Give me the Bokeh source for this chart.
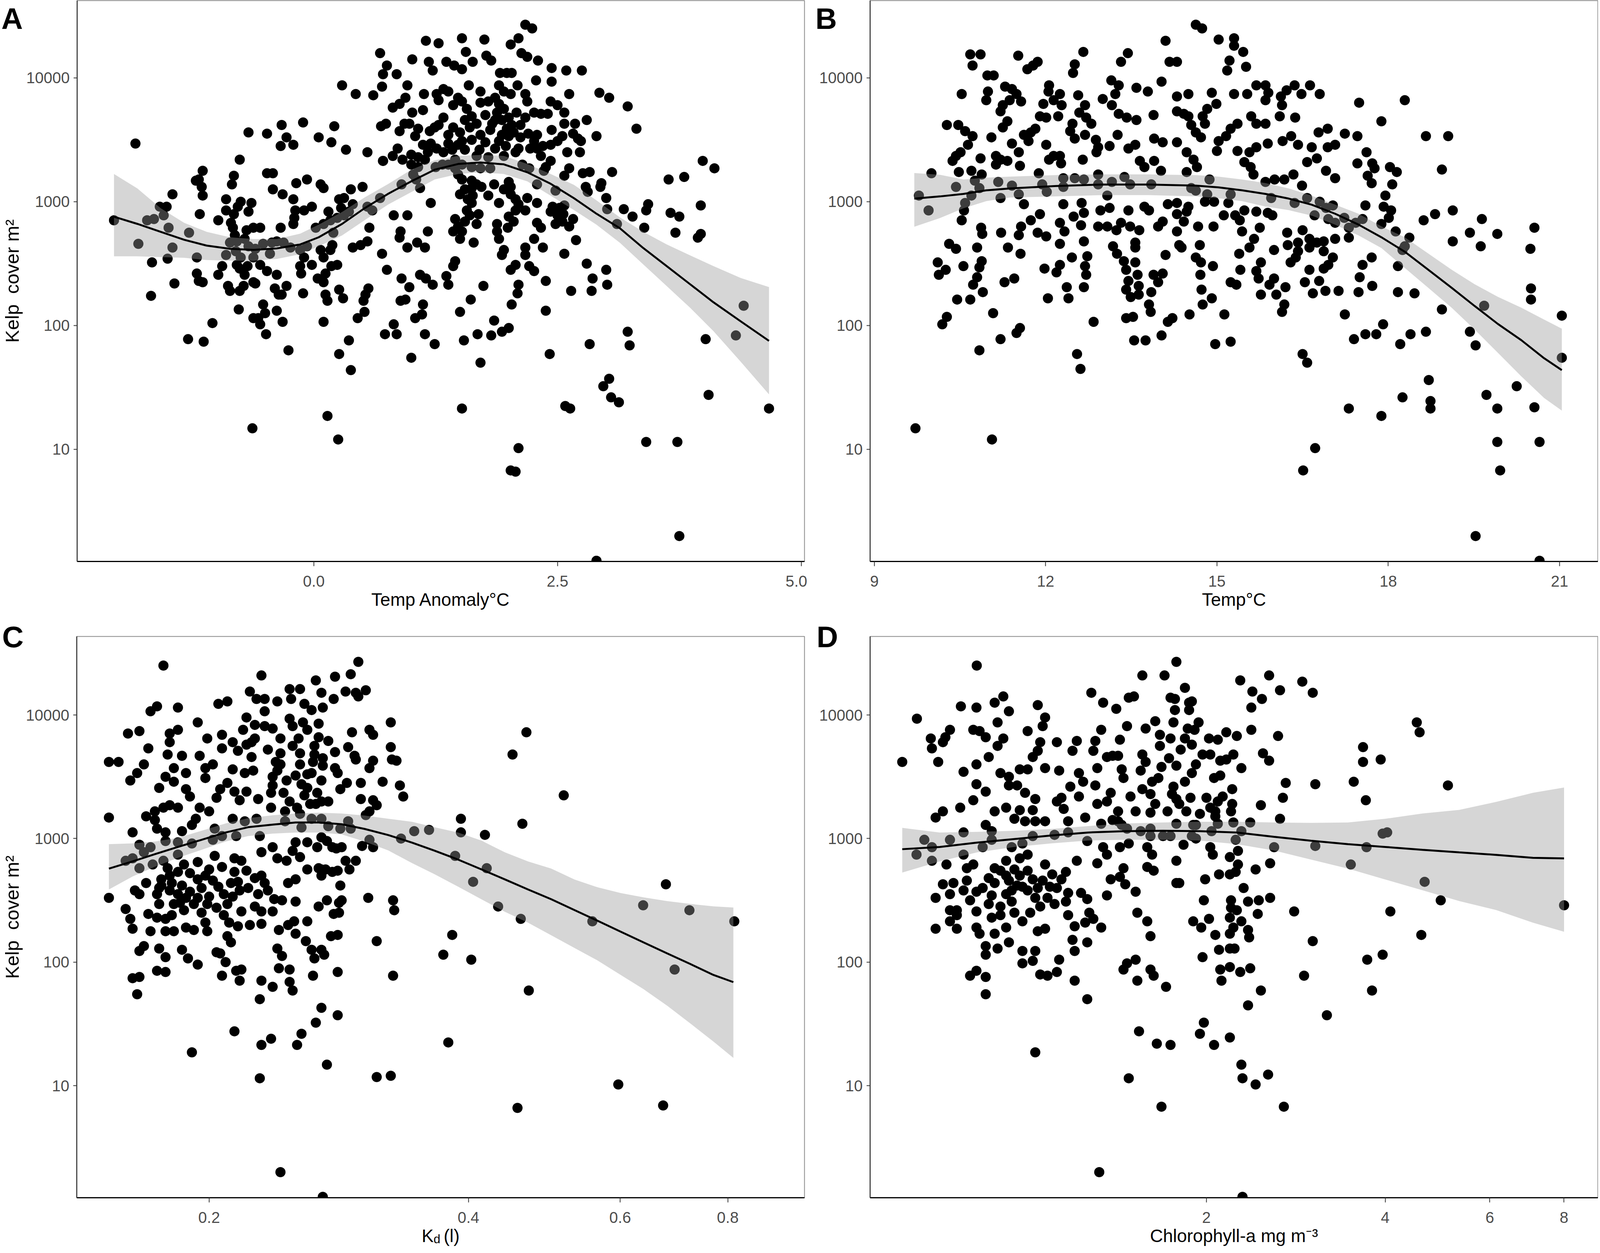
from bokeh.plotting import figure
from bokeh.layouts import column, row
from bokeh.models import Range1d, FixedTicker, LinearAxis, LinearScale
from bokeh.embed import file_html
from bokeh.resources import INLINE

# Each pair: (x value, log10 of kelp cover per m2)
anomaly_points = [(-1.83,3.47),(-2.05,2.85),(-1.8,2.66),(-1.66,2.51),(-1.67,2.24),(-1.43,2.34),(-1.71,2.85),(-1.64,2.86),(-1.58,2.96),(-1.51,2.96),(-1.54,2.89),(-1.49,2.79),(-1.45,3.06),(-1.45,2.63),(-1.5,2.54),(-1.28,2.75),(-1.2,2.55),(-1.2,2.42),(-1.18,2.36),(-1.14,2.35),(-1.17,2.9),(-1.29,1.89),(-1.13,1.87),(-1.04,2.02),(-1.14,3.25),(-1.18,3.18),(-1.15,3.12),(-1.14,3.05),(-1.21,3.17),
(-.98,2.85),(-.9,3.02),(-.9,2.93),(-.85,2.83),(-.83,2.79),(-.81,2.73),(-.86,2.67),(-.9,2.57),(-.94,2.48),(-.98,2.41),(-.88,2.32),(-.86,2.28),(-.76,2.28),(-.72,2.32),(-.79,2.49),(-.76,2.46),(-.71,2.41),(-.62,2.35),(-.6,2.34),(-.77,2.13),(-.82,3.21),(-.84,3.14),(-.76,3.34),(-.75,3.0),(-.64,2.99),(-.67,2.92),(-.67,3.56),(-.48,3.55),(-.33,3.62),(-.34,3.45),(-.28,3.52),(-.21,3.46),(-.11,3.64),(.05,3.52),(.18,3.48),(.21,3.61),(.33,3.42),(.55,3.4),(.71,3.33),
(-.48,3.23),(-.42,3.23),(-.42,3.1),(-.32,3.06),(-.21,3.02),(-.19,2.93),(-.2,2.87),(-.21,2.82),(-.18,3.15),(-.07,3.18),(-.1,2.93),(-.02,2.96),(.07,3.14),(.1,3.11),(.29,3.94),(.43,3.87),(.61,3.86),(.70,3.93),(.71,4.03),(.75,4.1),(.68,4.2),(.85,4.03),(.96,3.94),
(-.69,2.77),(-.62,2.79),(-.55,2.79),(-.79,2.68),(-.71,2.7),(-.67,2.64),(-.62,2.55),(-.55,2.49),(-.48,2.44),(-.38,2.41),(-.4,2.3),(-.36,2.25),(-.28,2.32),(-.33,2.25),(-.52,2.17),(-.5,2.1),(-.57,2.06),(-.55,2.01),(-.62,2.06),(-.38,2.12),(-.32,2.03),(-.49,1.93),(-.26,1.8),(-.34,2.79),(-.38,2.68),(-.43,2.67),(-.31,2.67),(-.24,2.63),(-.14,2.61),(-.07,2.64),(-.1,2.55),(-.14,2.48),(-.13,2.42),(-.02,2.49),(-.11,2.26),(.04,2.38),(.1,2.35),(.12,2.42),(.18,2.48),(.24,2.49),(.17,2.61),(.19,2.65),(.07,2.61),(.1,2.55),(.12,2.25),(.14,2.2),(.26,2.29),(.3,2.22),(.56,2.3),(.53,2.25),(.51,2.2),(.52,2.11),(.45,2.06),(.1,2.03),(.36,1.88),(.26,1.77),(.38,1.64),(.14,1.27),(.25,1.08),(-.63,1.17),
(.02,2.79),(.1,2.82),(.17,2.85),(.24,2.87),(.31,2.89),(.36,2.92),(.26,3.02),(.31,3.03),(.38,3.1),(.5,3.12),(.4,2.63),(.48,2.65),(.55,2.68),(.57,2.79),(.55,2.96),(.6,2.93),(.68,3.03),(.70,2.58),(.75,2.45),(.82,2.89),(.96,2.89),(.89,2.76),(.88,2.71),(.96,2.63),(1.06,2.67),(1.14,2.63),(1.17,2.76),(1.09,2.41),(1.15,2.38),(.9,2.38),(.98,2.31),(.89,2.2),(.94,2.21),(1.22,2.33),(1.36,2.4),(1.38,2.33),(1.43,2.48),(1.45,2.52),(.73,1.93),(.82,2.01),(.85,1.93),(1.04,2.06),(1.11,2.09),(1.12,2.17),(1.14,1.93),(1.24,1.85),(1.0,1.74),(1.5,2.11),(1.61,2.21),(1.74,2.32),(1.54,1.88),(1.68,1.93),(1.71,1.7),(1.82,1.92),(1.85,2.04),(1.93,1.95),(2.0,1.98),(2.03,2.17),(2.09,2.26),(2.1,2.33),(2.38,2.12),(2.42,1.77),(2.83,1.85),(3.22,1.95),(3.24,1.84),(4.02,1.89),(4.33,1.92),(4.41,2.16),(4.05,1.44),(4.67,1.33),(3.41,1.06),(3.73,1.06),(3.75,.3),(2.9,.1),(2.1,1.01),(2.02,.83),(2.07,.82),(1.52,1.33),(2.58,1.35),(2.63,1.33),(2.97,1.51),(3.03,1.57),(3.05,1.42),(3.13,1.38),
(1.15,4.3),(1.28,4.28),(1.52,4.32),(1.75,4.31),(2.02,4.27),(2.1,4.32),(2.17,4.43),(2.24,4.4),(1.56,4.21),(1.01,4.15),(1.18,4.13),(1.22,4.06),(1.36,4.13),(1.44,4.1),(1.52,4.07),(1.63,4.13),(1.77,4.18),(1.82,4.14),(2.13,4.2),(2.19,4.17),(2.3,4.14),(2.44,4.08),(2.59,4.06),(2.75,4.06),(1.91,4.04),(1.98,4.04),(2.03,4.04),(2.28,3.98),(2.44,3.97),(2.62,3.87),(2.09,3.94),(1.9,3.94),(1.95,3.89),(2.02,3.87),(2.17,3.87),(2.19,3.81),(1.59,3.94),(1.71,3.89),(1.33,3.91),(1.38,3.89),(1.26,3.87),(1.28,3.82),(1.13,3.87),(.94,3.84),(.88,3.79),(.81,3.76),(1.01,3.72),(1.12,3.74),(.93,3.63),(.98,3.63),(1.07,3.59),(.88,3.57),(.74,3.63),(.69,3.61),(1.24,3.6),(1.19,3.57),(1.04,3.53),(1.12,3.46),(.86,3.43),(.81,3.37),(.91,3.34),(.71,3.33),(1.0,3.38),(1.07,3.36),(1.17,3.4),(1.26,3.43),(1.38,3.54),(1.38,3.47),(1.43,3.78),(1.48,3.84),(1.52,3.81),(1.57,3.75),(1.62,3.69),(1.67,3.63),(1.5,3.56),(1.52,3.49),(1.62,3.5),(1.71,3.54),(1.79,3.81),(1.86,3.84),(1.9,3.79),(1.88,3.72),(1.93,3.66),(1.98,3.59),(1.83,3.63),(1.9,3.49),(1.86,3.43),(2.0,3.53),(2.05,3.56),(2.17,3.68),(2.26,3.72),(2.33,3.71),(2.4,3.71),(2.43,3.81),(2.5,3.78),(2.57,3.72),(2.57,3.63),(2.44,3.58),(2.55,3.53),(2.29,3.54),(2.26,3.49),(2.29,3.43),(2.5,3.49),(2.43,3.46),(2.1,3.43),(2.71,3.51),(2.74,3.49),(2.73,3.4),(2.8,3.66),(2.9,3.53),(2.93,3.88),(3.03,3.84),(3.22,3.77),(3.31,3.59),(1.33,3.4),(1.45,3.34),(1.67,3.37),(1.79,3.36),(1.95,3.37),(2.33,3.37),(2.43,3.33),(2.38,3.28),(2.62,3.27),(2.57,3.21),(2.76,3.23),(2.83,3.24),(3.06,3.24),(2.95,3.15),(2.94,3.12),(2.79,3.12),(2.81,3.08),(3.0,3.03),(2.48,3.09),(2.29,3.14),(2.14,3.3),(2.21,3.27),(2.36,3.25),
(3.99,3.33),(4.11,3.27),(3.64,3.18),(3.8,3.2),(3.97,2.97),(3.66,2.91),(3.75,2.88),(3.71,2.75),(3.97,2.74),(3.94,2.71),(3.43,2.98),(3.41,2.93),(3.18,2.94),(3.27,2.88),(3.39,2.79),(3.11,2.82),(3.01,2.94),
(1.02,3.22),(1.05,3.18),(.9,3.14),(1.09,3.11),(1.38,3.3),(1.45,3.27),(1.52,3.3),(1.62,3.28),(1.71,3.27),(1.81,3.27),(1.52,3.18),(1.62,3.17),(1.67,3.14),(1.48,3.22),(1.62,3.11),(1.5,3.06),(1.79,3.05),(2.0,3.16),(2.02,3.12),(2.02,3.06),(2.07,3.02),(2.19,3.03),(2.29,2.99),(1.9,2.99),(2.07,2.93),(2.17,2.93),(1.2,2.99),(1.62,2.99),(1.57,2.93),(1.6,2.89),(1.45,2.86),(1.48,2.8),(1.43,2.76),(1.52,2.76),(1.69,2.9),(1.67,2.82),(1.88,2.82),(1.88,2.76),(1.9,2.7),(1.99,2.79),(1.64,2.67),(1.95,2.61),(1.93,2.57),(2.17,2.63),(2.17,2.57),(2.07,2.49),(2.02,2.45),(2.21,2.48),(2.26,2.44),(2.35,2.63),(2.33,2.79),(2.29,2.83),(2.26,2.7),(2.45,2.96),(2.52,2.95),(2.57,2.97),(2.43,2.92),(2.5,2.89),(2.55,2.84),(2.48,2.82),(2.69,2.69),(2.57,2.58),(2.38,2.36),(2.64,2.28),(2.8,2.5),(2.86,2.38),(2.85,2.28),(3.0,2.45),(3.01,2.33),
(1.71,3.8),(1.76,3.7),(1.81,3.58),(1.86,3.66),(1.95,3.75),(2.0,3.68),(2.03,3.62),(2.08,3.72),(2.12,3.62),(2.12,3.52),(2.07,3.4),(1.97,3.45),(1.93,3.54),(1.76,3.48),(1.7,3.42),(1.6,3.6),(1.55,3.66),(1.43,3.6),(1.33,3.68),(1.28,3.62),(1.2,3.47),(1.14,3.34),(1.07,3.28),(1.0,3.3),(1.32,3.3),(1.25,3.28),(1.55,3.42),(1.48,3.46),(1.42,3.42),(2.2,3.55),(2.22,3.43),(2.35,3.45),(2.6,3.4),(2.66,3.55),(2.68,3.63),(1.55,3.1),(1.58,3.02),(1.63,3.05),(1.72,3.12),(1.85,3.14),(1.95,3.1),(2.0,2.88),(2.05,2.84),(2.1,2.98),(1.55,2.84),(1.5,2.7),(2.56,2.9),(2.62,2.8),(2.66,2.86),(-.8,2.6),(-.75,2.55),(-.68,2.48),(-.6,2.62),(-.52,2.66),(-.45,2.58),(.2,2.75),(.15,2.92),(.28,2.95),(.4,2.98),(-.82,2.9),(-.78,2.96)]

temp_points = [(14.63,4.43),(14.74,4.4),(14.1,4.3),(15.03,4.31),(15.3,4.32),(15.3,4.26),(15.46,4.21),(15.22,4.14),(15.18,4.06),(15.51,4.09),(14.17,4.13),(14.3,4.13),(13.44,4.2),(13.32,4.13),(12.66,4.21),(12.51,4.11),(12.48,4.04),(11.52,4.18),(11.86,4.13),(11.78,4.1),(11.68,4.07),(10.68,4.19),(10.86,4.19),(10.72,4.1),(10.98,4.02),(11.09,4.02),(10.53,3.87),(10.99,3.89),(10.96,3.82),(11.29,3.93),(11.41,3.91),(11.49,3.87),(11.57,3.81),(11.37,3.82),(11.25,3.78),(11.21,3.73),(12.06,3.94),(12.05,3.89),(12.25,3.87),(12.57,3.86),(11.96,3.79),(12.14,3.82),(12.28,3.78),(12.22,3.69),(11.9,3.69),(12.01,3.68),(12.69,3.78),(12.59,3.72),(12.71,3.68),(12.47,3.63),(12.8,3.63),(12.43,3.57),(12.51,3.51),(12.69,3.54),(12.88,3.5),(12.92,3.44),(12.89,3.4),(13.0,3.83),(13.15,3.98),(13.28,3.94),(13.22,3.87),(13.16,3.78),(13.28,3.71),(13.42,3.68),(13.59,3.66),(13.59,3.92),(13.79,3.89),(14.03,3.97),(13.89,3.7),(14.3,3.85),(14.5,3.87),(14.3,3.73),(14.42,3.71),(14.5,3.69),(14.55,3.62),(14.91,3.88),(14.99,3.79),(14.83,3.75),(14.75,3.69),(14.79,3.63),(14.63,3.56),(14.72,3.52),(15.03,3.49),(15.0,3.41),(15.3,3.87),(15.53,3.87),(15.69,3.94),(15.85,3.94),(15.9,3.88),(15.85,3.82),(16.12,3.85),(16.22,3.9),(16.36,3.94),(16.48,3.87),(16.63,3.94),(16.8,3.87),(16.14,3.78),(16.1,3.69),(16.37,3.68),(15.6,3.69),(15.69,3.63),(15.85,3.63),(15.36,3.63),(15.24,3.59),(15.16,3.53),(16.15,3.49),(16.3,3.53),(16.42,3.46),(15.89,3.47),(15.69,3.44),(15.57,3.4),(15.36,3.41),(15.48,3.32),(15.59,3.28),(15.64,3.22),(15.85,3.16),(16.01,3.18),(16.18,3.18),(16.34,3.22),(16.49,3.13),(16.58,3.32),(16.66,3.44),(16.75,3.35),(16.91,3.25),(17.07,3.19),(16.78,3.56),(16.94,3.59),(17.24,3.55),(17.46,3.53),(16.94,3.44),(17.07,3.46),(17.49,3.8),(17.88,3.65),(18.29,3.82),(18.66,3.53),(19.05,3.53),(18.94,3.26),(17.62,3.4),(17.46,3.31),(17.72,3.31),(17.76,3.27),(17.64,3.21),(17.71,3.15),(18.03,3.28),(18.15,3.24),(18.07,3.14),(17.95,3.05),(17.92,2.96),(18.05,2.93),(18.01,2.87),(17.6,2.97),(17.88,2.82),(18.13,2.76),(18.37,2.71),(18.29,2.64),(18.17,2.48),(18.25,2.61),(18.62,2.85),(18.82,2.9),(19.13,2.93),(19.13,2.68),(19.43,2.75),(19.64,2.86),(19.62,2.64),(19.91,2.74),(20.56,2.79),(20.49,2.62),(20.5,2.3),(20.5,2.21),(19.68,2.16),(18.94,2.13),(18.46,2.26),(18.17,2.27),(18.66,1.95),(18.39,1.93),(18.21,1.85),(17.91,2.01),(17.79,1.93),(17.6,1.93),(17.4,1.89),(19.43,1.95),(19.53,1.84),(21.04,2.08),(21.04,1.74),(20.25,1.51),(19.72,1.44),(19.91,1.33),(20.56,1.34),(18.71,1.56),(18.74,1.39),(18.74,1.33),(18.25,1.42),(17.88,1.27),(17.31,1.33),(19.91,1.06),(20.65,1.06),(19.96,.83),(19.53,.3),(20.65,.1),(16.72,1.01),(16.51,.83),(16.5,1.77),(16.58,1.7),(9.72,1.17),(11.06,1.08),(12.55,1.77),(12.61,1.65),(14.97,1.85),(15.24,1.87),(10.84,1.8),(11.21,1.89),(11.49,1.94),(11.55,1.98),(13.55,1.88),(13.75,1.88),(14.03,1.92),(14.14,2.03),(14.22,2.06),(13.41,2.06),(13.53,2.07),(12.84,2.03),(10.19,2.01),(10.27,2.07),(11.08,2.1),(14.52,2.09),(15.13,2.09),(13.81,2.17),(13.84,2.11),(14.75,2.17),(14.91,2.22),
(9.78,3.05),(9.95,2.93),(10.0,3.23),(10.27,3.62),(10.47,3.62),(10.59,3.57),(10.72,3.53),(10.64,3.46),(10.51,3.4),(10.43,3.37),(10.37,3.33),(10.86,3.35),(10.48,3.24),(10.7,3.25),(10.88,3.22),(11.05,3.52),(11.25,3.6),(11.33,3.65),(11.62,3.54),(11.74,3.56),(11.7,3.49),(11.82,3.59),(12.01,3.46),(11.41,3.47),(11.53,3.4),(11.13,3.37),(11.21,3.34),(11.33,3.33),(11.13,3.3),(11.55,3.29),(12.06,3.34),(12.14,3.37),(12.25,3.37),(12.27,3.31),(12.65,3.34),(11.88,3.23),(11.17,3.16),(11.41,3.13),(11.53,3.06),(11.62,2.98),(10.43,3.12),(10.76,3.17),(10.84,3.11),(10.7,3.05),(10.59,2.99),(10.57,2.93),(10.53,2.85),(11.21,3.03),(11.94,3.14),(12.02,3.08),(12.31,3.19),(12.31,3.12),(12.51,3.19),(12.67,3.18),(12.92,3.22),(12.92,3.14),(13.16,3.16),(13.38,3.2),(13.48,3.14),(13.85,3.14),(14.55,3.11),(14.63,3.09),(14.87,3.18),(14.83,3.06),(14.79,3.0),(14.95,3.0),(15.24,3.06),(15.2,2.99),(15.12,2.89),(15.32,2.89),(15.4,2.85),(15.48,2.93),(15.69,2.92),(15.89,2.91),(15.97,2.89),(15.95,3.03),(16.36,2.99),(16.58,3.03),(16.8,3.0),(16.71,2.89),(16.91,2.95),(17.03,2.97),(16.95,2.86),(17.07,2.83),(17.23,2.87),(17.43,2.83),(17.55,2.86),(17.31,2.79),(17.31,2.71),(17.07,2.7),(16.87,2.68),(16.75,2.67),(16.62,2.7),(16.5,2.77),(16.23,2.75),(16.24,2.65),(16.42,2.67),(16.62,2.63),(16.42,2.6),(16.38,2.55),(16.29,2.51),(16.87,2.6),(17.03,2.55),(16.95,2.49),(16.87,2.46),(16.79,2.36),(16.62,2.45),(17.71,2.55),(17.55,2.49),(17.5,2.39),(17.48,2.27),(17.72,2.32),(17.24,2.09),(17.13,2.28),(16.9,2.28),(16.68,2.26),(16.54,2.35),(16.2,2.31),(16.04,2.25),(16.18,2.17),(16.14,2.11),(16.0,2.38),(15.92,2.33),(15.77,2.25),(15.73,2.38),(15.69,2.44),(15.77,2.51),(15.39,2.58),(15.41,2.45),(15.24,2.35),(15.34,2.33),(16.0,2.61),(15.75,2.79),(15.65,2.7),(15.57,2.63),(15.44,2.76),(14.67,2.8),(14.94,2.8),(14.7,2.65),(14.63,2.55),(14.72,2.51),(14.71,2.41),(14.73,2.29),(14.93,2.48),(14.47,2.92),(14.3,2.99),(14.14,2.98),(14.5,2.96),(14.3,2.9),(14.42,2.84),(14.3,2.76),(14.34,2.65),(14.38,2.63),(14.1,2.57),(14.05,2.84),(13.97,2.8),(13.81,2.93),(13.73,2.96),(13.45,2.93),(13.08,3.05),(12.96,2.93),(13.12,2.95),(12.63,2.99),(12.67,2.91),(12.49,2.88),(12.31,2.98),(11.9,2.9),(11.74,2.85),(11.57,2.8),(11.53,2.73),(11.86,2.75),(12.01,2.72),(12.25,2.83),(12.33,2.76),(12.62,2.81),(12.92,2.8),(13.08,2.8),(13.32,2.83),(13.24,2.77),(13.48,2.8),(13.64,2.77),(12.25,2.66),(12.67,2.68),(11.22,2.75),(10.87,2.79),(10.89,2.74),(10.8,2.63),(10.31,2.66),(10.43,2.62),(11.34,2.63),(11.56,2.58),(12.46,2.55),(12.73,2.56),(12.69,2.48),(12.25,2.49),(12.19,2.43),(11.98,2.46),(10.56,2.48),(10.11,2.51),(10.13,2.41),(10.25,2.45),(10.88,2.52),(10.84,2.47),(10.8,2.39),(10.73,2.33),(10.9,2.27),(10.45,2.21),(10.68,2.21),(11.28,2.35),(11.45,2.38),(12.37,2.31),(12.4,2.22),(12.04,2.22),(12.67,2.31),(12.71,2.41),(13.18,2.64),(13.25,2.58),(13.37,2.52),(13.57,2.67),(13.57,2.63),(13.57,2.51),(13.41,2.45),(13.45,2.36),(13.41,2.29),(13.49,2.23),(13.61,2.41),(13.63,2.32),(13.63,2.25),(13.89,2.41),(14.05,2.42),(13.97,2.35),(13.85,2.27),
(13.65,3.33),(13.73,3.28),(13.9,3.33),(14.02,3.25),(13.45,3.43),(13.57,3.46),(13.12,3.45),(13.26,3.54),(13.9,3.51),(14.05,3.48),(14.3,3.48),(14.47,3.4),(14.59,3.34),(14.65,3.28),(14.47,3.24)]

kd_points = [(.298,4.43),(.296,4.18),(.296,3.64),(.307,3.88),(.325,3.94),(.325,3.74),(.326,3.64),(.33,3.63),(.318,3.46),(.333,3.43),(.336,3.34),(.467,3.86),(.45,3.68),(.516,3.35),(.462,3.12),(.392,3.16),(.392,3.05),(.418,3.03),(.36,3.07),(.346,3.06),(.334,3.0),(.31,2.93),(.307,2.99),(.301,2.94),(.292,3.08),(.285,2.93),(.27,3.01),(.386,2.86),(.42,2.76),(.405,2.65),(.433,2.45),(.46,2.35),(.383,2.22),(.374,2.06),(.403,2.02),(.47,1.77),(.313,2.17),(.327,1.89),(.282,2.22),(.283,2.48),(.283,2.4),(.306,2.52),(.327,2.5),(.328,2.42),(.678,2.63),(.638,2.46),(.722,2.42),(.814,2.33),(.557,2.33),(.694,1.94),(.282,1.57),(.379,1.35),(.313,1.07),(.325,1.08),(.597,1.01),(.673,.84),(.456,.82),(.242,.3),(.271,.1),(.274,1.17),(.229,1.06),(.191,1.27),(.214,1.44),(.23,1.33),(.236,1.38),(.253,1.33),(.256,1.42),(.266,1.51),(.27,1.63),(.229,1.7),(.165,1.74),(.25,1.77),(.237,1.8),(.248,1.84),(.23,1.85),(.264,1.89),(.282,1.92),(.248,1.94),(.241,1.95),(.207,1.89),(.217,1.85),(.215,1.93),(.218,1.94),(.178,1.92),(.174,1.93),(.163,1.87),(.166,1.88),
(.177,4.4),(.23,4.32),(.28,4.31),(.292,4.33),(.266,4.28),(.248,4.21),(.255,4.21),(.27,4.18),(.288,4.19),(.304,4.2),(.298,4.15),(.279,4.13),(.271,4.06),(.263,4.04),(.258,4.09),(.24,4.11),(.249,4.13),(.223,4.19),(.227,4.13),(.232,4.13),(.232,4.03),(.205,4.09),(.21,4.11),(.174,4.07),(.171,4.03),(.184,4.06),(.221,3.98),(.194,3.94),(.219,3.88),(.226,3.92),(.232,3.91),(.237,3.89),(.248,3.97),(.25,3.91),(.257,3.94),(.26,3.88),(.268,3.93),(.254,3.81),(.242,3.81),(.226,3.81),(.224,3.78),(.184,3.88),(.18,3.85),(.166,3.87),(.161,3.85),(.199,3.81),(.207,3.84),(.18,3.78),(.17,3.73),(.207,3.73),(.213,3.78),(.221,3.76),(.216,3.71),(.224,3.66),(.234,3.72),(.239,3.62),(.242,3.69),(.242,3.6),(.255,3.69),(.255,3.6),(.264,3.62),(.268,3.82),(.275,3.79),(.265,3.68),(.271,3.65),(.271,3.59),(.28,3.7),(.29,3.74),(.295,3.67),(.293,3.86),(.31,3.84),(.31,3.63),(.307,3.57),(.28,3.57),(.282,3.53),(.289,3.45),(.3,3.45),(.263,3.53),(.252,3.51),(.27,3.47),(.153,3.62),(.157,3.62),(.168,3.6),(.165,3.53),(.162,3.47),(.179,3.68),(.186,3.67),(.195,3.67),(.182,3.57),(.188,3.53),(.198,3.57),(.202,3.6),(.213,3.56),(.22,3.53),(.225,3.55),(.178,3.5),(.175,3.41),(.182,3.46),(.188,3.4),(.198,3.49),(.206,3.4),(.214,3.38),(.221,3.38),(.228,3.32),(.217,3.31),(.237,3.5),(.237,3.43),(.246,3.47),(.236,3.37),(.244,3.37),(.256,3.44),(.26,3.41),(.267,3.37),(.284,3.4),(.275,3.3),(.258,3.35),(.262,3.28),(.266,3.28),(.3,3.32),(.31,3.31),(.313,3.27),(.307,3.22),(.304,3.19),(.153,3.17),(.153,2.52),(.163,3.05),(.166,2.95),(.173,3.22),(.177,3.25),(.18,3.27),(.173,3.15),(.174,3.08),(.169,3.18),(.19,3.34),(.184,3.25),(.195,3.25),(.204,3.33),(.2,3.22),(.193,3.16),(.191,3.11),(.186,3.06),(.178,3.05),(.213,3.16),(.22,3.14),(.227,3.16),(.236,3.25),(.245,3.22),(.253,3.25),(.245,3.14),(.256,3.09),(.263,3.16),(.27,3.16),(.275,3.1),(.284,3.08),(.29,3.14),(.274,2.98),(.278,2.93),(.281,2.92),(.267,2.93),(.26,2.97),(.252,2.97),(.25,2.9),(.23,2.89),(.237,2.93),(.24,2.84),(.229,3.02),(.215,3.02),(.207,3.02),(.202,2.99),(.191,2.96),(.184,2.97),(.178,2.98),(.171,2.93),(.168,2.89),(.163,2.84),(.16,2.82),(.166,2.76),(.172,2.79),(.177,2.82),(.184,2.87),(.203,2.86),(.207,2.77),(.214,2.84),(.218,2.82),(.221,2.74),(.214,2.73),(.212,2.64),(.217,2.58),(.194,2.81),(.187,2.79),(.184,2.73),(.179,2.76),(.176,2.67),(.181,2.64),(.184,2.55),(.194,2.67),(.198,2.7),(.202,2.66),(.196,2.6),(.194,2.52),(.199,2.47),(.205,2.61),(.208,2.55),(.164,2.58),(.169,2.64),(.166,2.55),(.174,2.55),(.175,2.47),(.182,2.47),(.185,2.48),(.16,2.43),(.162,2.35),(.163,2.27),(.17,2.39),(.174,2.36),(.178,2.35),(.171,2.25),(.178,2.25),(.182,2.25),(.188,2.28),(.192,2.26),(.198,2.32),(.199,2.25),(.208,2.38),(.211,2.32),(.218,2.41),(.216,2.29),(.223,2.3),(.23,2.41),(.23,2.31),(.237,2.41),(.238,2.51),(.243,2.5),(.234,2.58),(.228,2.55),(.23,2.7),(.247,2.64),(.252,2.67),(.26,2.75),(.252,2.49),(.268,2.76),(.27,2.75),(.273,2.75),(.282,2.74),(.27,2.7),(.278,2.73),(.288,2.82),(.296,2.82),(.291,2.75),(.284,2.62),(.268,2.45),(.274,2.5),(.285,2.5),(.279,2.39),(.27,2.1),(.26,2.33),(.251,2.33),(.241,2.26),(.247,2.3),(.252,2.23),(.259,2.17),(.263,2.1),(.265,2.03),(.24,2.11),(.243,2.05),(.277,2.21),(.272,2.06),(.212,2.16),(.186,2.1),(.168,2.13),(.166,2.09),(.175,2.11),(.178,2.04),(.189,2.03),(.194,1.98),(.206,2.07),(.204,2.08),(.209,2.0),(.21,2.21),
(.176,2.62),(.18,2.58),(.186,2.62),(.19,2.57),(.192,2.47),(.187,2.42),(.181,2.38),(.196,2.4),(.2,2.53),(.204,2.44),(.21,2.47),(.213,2.53),(.216,2.65),(.2,2.75),(.19,2.72),(.18,2.7),(.175,2.6),(.188,2.52),(.222,2.6),(.226,2.68),(.232,2.64),(.226,2.45),(.203,3.08),(.21,3.45),(.248,3.3),(.255,3.2),(.26,3.52),(.27,3.3),(.265,3.75),(.25,3.75),(.24,3.55),(.246,2.82),(.255,2.85)]

chl_points = [(.821,4.4),(.651,3.97),(.615,3.62),(.687,3.81),(.69,3.73),(.74,3.88),(.727,3.82),(.72,3.78),(.707,3.62),(.7,3.17),(.772,4.07),(.82,4.06),(.88,4.1),(.91,4.15),(.93,4.03),(1.04,4.08),(1.07,3.98),(1.06,3.91),(1.0,3.87),(.89,3.94),(.81,3.88),(.83,3.87),(.85,3.82),(.91,3.81),(.89,3.75),(.86,3.66),(.82,3.6),(.78,3.54),(.9,3.53),(.97,3.56),(.93,3.5),(1.0,3.56),(1.07,3.57),(1.13,3.55),(1.22,3.53),(1.05,3.78),(1.04,3.71),(1.02,3.66),(1.12,3.78),(1.21,3.79),(1.19,3.71),(1.28,4.18),(1.34,4.1),(1.41,4.05),(1.48,4.14),(1.51,4.15),(1.56,4.32),(1.7,4.32),(1.78,4.43),(1.84,4.22),(1.87,4.1),(1.89,4.11),(1.87,4.04),(1.74,4.14),(1.77,4.13),(1.77,4.04),(1.76,3.94),(1.94,3.94),(1.91,3.88),(1.86,3.89),(1.84,3.81),(1.89,3.76),(2.28,4.28),(2.39,4.19),(2.38,4.06),(2.48,4.13),(2.55,4.32),(2.66,4.2),(2.9,4.27),(3.02,4.18),(2.16,3.86),(2.25,3.83),(2.38,3.88),(2.64,3.83),(2.02,3.81),(2.09,3.8),(2.49,3.69),(2.55,3.63),(2.22,3.68),(2.16,3.64),(2.11,3.63),(2.29,3.57),(2.03,3.68),(1.97,3.68),(1.92,3.6),(2.06,3.49),(2.11,3.51),(1.89,3.53),(1.84,3.46),(1.73,3.65),(1.78,3.59),(1.67,3.75),(1.74,3.81),(1.81,3.72),(1.64,3.95),(1.58,3.89),(1.67,3.84),(1.47,3.91),(1.33,3.88),(1.43,3.8),(1.3,3.79),(1.29,3.71),(1.36,3.66),(1.39,3.67),(1.31,3.57),(1.42,3.67),(1.56,3.68),(1.58,3.62),(1.44,3.56),(1.45,3.49),(1.62,3.46),(1.66,3.49),(1.76,3.42),
(4.52,3.94),(4.57,3.86),(3.67,3.74),(3.67,3.62),(3.93,3.64),(3.54,3.46),(3.71,3.31),(5.1,3.43),(3.96,3.04),(4.03,3.05),(3.72,2.93),(3.05,2.94),(2.72,3.45),(2.69,3.33),(3.05,3.44),(2.47,3.27),(2.66,3.16),(2.37,3.13),(3.5,2.79),(4.66,2.65),(4.96,2.5),(4.08,2.41),(4.6,2.22),(3.96,2.06),(3.73,2.02),(3.8,1.77),(3.19,1.57),(8.0,2.46),(3.02,2.17),(2.92,1.89),(2.81,2.41),(2.56,2.52),(2.45,2.5),(2.35,2.49),(2.44,2.39),(2.25,2.42),(2.6,2.93),(2.56,2.8),(2.42,2.75),(2.24,2.73),(2.31,2.6),(2.1,2.71),(2.19,2.71),(1.99,2.67),(2.26,2.79),(2.19,2.85),(2.05,2.87),(2.26,2.9),(2.24,2.99),(2.03,2.93),(1.92,3.0),(1.83,2.95),(1.92,3.11),(1.78,3.12),(2.09,3.12),(2.22,3.13),(2.29,3.06),(1.78,2.64),(1.8,2.64),(1.78,2.82),(1.98,2.5),(2.2,2.5),(2.2,2.44),(2.19,2.36),(1.9,2.33),(1.96,2.28),(2.02,2.35),(2.07,2.22),(2.22,2.28),(2.19,2.23),(2.29,2.33),(2.35,2.26),(2.36,2.2),(2.1,2.1),(2.19,2.11),(2.23,2.11),(1.97,2.04),(2.11,1.94),(2.19,1.96),(2.12,1.85),(2.28,1.92),(2.37,1.95),(2.47,1.77),(2.35,1.65),(1.98,1.51),(1.95,1.42),(2.06,1.33),(2.19,1.39),(2.29,1.17),(2.3,1.06),(2.42,1.01),(2.54,1.09),(2.7,.83),(2.3,.1),(1.32,.3),(1.68,.83),(1.48,1.06),(1.03,1.27),(1.54,1.44),(1.65,1.34),(1.74,1.33),(1.26,1.7),(1.71,1.8),(1.53,1.85),(1.63,1.89),(1.61,1.94),(1.45,1.94),(1.47,1.99),(1.52,2.02),(1.2,1.85),(.85,1.74),(.85,1.88),(.8,1.89),(.82,1.93),(1.05,1.9),(1.08,1.89),(1.12,1.92),(1.13,2.02),(.98,1.99),(1.02,2.01),(.98,2.09),(1.03,2.09),(1.2,2.09),(1.19,2.18),(1.26,2.16),(1.33,2.28),(1.59,2.33),(1.61,2.21),(1.53,2.4),(1.27,2.4),(1.26,2.51),(1.36,2.54),(1.52,2.57),(1.46,2.63),(1.38,2.67),(1.43,2.69),(1.45,2.76),(1.59,2.77),(1.63,2.74),
(1.59,2.93),(1.62,2.87),(1.34,2.93),(1.43,2.93),(1.31,2.8),(1.36,2.87),(1.21,2.82),(1.26,2.98),(1.48,2.96),(1.55,3.06),(1.61,3.08),(1.69,3.02),(1.44,3.11),(1.31,3.28),(1.38,3.37),(1.42,3.22),(1.47,3.08),(1.39,3.15),(1.49,3.34),(1.56,3.4),(1.61,3.36),(1.64,3.28),(1.61,3.21),(1.75,3.36),(1.8,3.28),(1.85,3.22),(1.88,3.33),(2.0,3.33),(2.09,3.3),(2.03,3.25),(2.21,3.4),(2.13,3.34),(2.21,3.28),(2.07,3.22),(2.07,3.18),(2.2,3.22),(1.9,3.11),(1.89,3.02),(1.74,3.02),(1.61,3.02),(1.42,3.14),(1.17,3.14),(1.25,3.17),(1.14,3.33),(1.15,3.24),(1.22,3.34),(1.3,3.43),(1.24,3.46),(1.03,3.32),(1.02,3.23),(.97,3.23),(1.03,3.14),(1.07,3.14),(.96,3.43),(.99,3.37),(.93,3.43),(.85,3.38),(.81,3.31),(.82,3.44),(.72,3.22),(.77,3.25),(.88,3.22),(.92,3.25),(.95,3.16),(.99,3.14),(.85,3.11),(.87,3.06),(.78,3.05),(.67,2.99),(.69,2.93),(.74,2.99),(.65,2.87),(.69,2.82),(.73,2.79),(.78,2.87),(.79,2.76),(.81,2.79),(.84,2.93),(.87,2.99),(.94,2.93),(.98,2.96),(1.02,3.02),(1.11,3.03),(1.17,3.05),(1.0,2.87),(.97,2.84),(.92,2.82),(.9,2.74),(.88,2.76),(.92,2.7),(.97,2.7),(1.02,2.67),(1.07,2.79),(1.1,2.71),(1.16,2.73),(1.09,2.61),(1.08,2.52),(.72,2.63),(.7,2.52),(.75,2.64),(.78,2.58),(.82,2.57),(.87,2.54),(.88,2.64),(.92,2.55),(.98,2.61),(1.03,2.52),(.9,2.45),(.94,2.49),(.98,2.33),(1.01,2.4),(.87,2.36),(.82,2.41),(.76,2.42),(.76,2.38),(.7,2.27),(.82,2.28),(.83,2.23),(.88,2.23),(.92,2.28),(.93,2.16),(.89,2.11),(.85,2.13),(.85,2.06),(1.04,2.25),(1.07,2.27),(1.11,2.47),(1.17,2.38),(1.2,2.29),(1.25,2.32),(1.29,2.35),(1.16,2.49),(1.23,2.56),(1.17,2.56),
(.95,2.75),(.96,2.62),(.94,2.58),(1.0,2.74),(1.04,2.6),(1.06,2.66),(1.0,2.58),(.93,2.66),(.86,2.68),(.84,2.6),(.86,2.47),(.9,2.38),(.95,2.4),(1.05,2.45),(1.12,2.6),(1.14,2.67),(.74,2.55),(.8,2.5),(.79,2.66),(.74,2.42),(.74,2.33),(.76,2.27),(1.12,3.3),(1.18,3.42),(1.36,3.3),(1.33,3.12),(1.52,3.22),(1.72,3.22),(1.95,3.2),(2.04,3.06),(1.78,3.32),(1.55,3.55),(1.68,3.58)]

anomaly_curve_x = [-2.05,-1.81,-1.57,-1.33,-1.10,-.86,-.62,-.38,-.14,.05,.29,.52,.76,1.0,1.24,1.48,1.71,1.95,2.19,2.43,2.67,2.90,3.14,3.38,3.62,3.86,4.10,4.38,4.67]
anomaly_fit = [2.879,2.821,2.757,2.693,2.646,2.620,2.611,2.623,2.655,2.713,2.821,2.947,3.063,3.165,3.259,3.305,3.317,3.302,3.238,3.145,3.028,2.903,2.786,2.626,2.480,2.334,2.188,2.034,1.876]
anomaly_upper = [3.224,3.107,2.947,2.830,2.757,2.713,2.699,2.699,2.742,2.815,2.917,3.034,3.142,3.259,3.335,3.37,3.378,3.37,3.305,3.224,3.136,3.011,2.874,2.757,2.655,2.567,2.48,2.384,2.311]
anomaly_lower = [2.559,2.559,2.553,2.547,2.529,2.524,2.524,2.538,2.576,2.64,2.728,2.85,2.976,3.078,3.18,3.224,3.238,3.224,3.165,3.049,2.932,2.815,2.669,2.494,2.319,2.144,1.955,1.707,1.444]

temp_curve_x = [9.70,10.15,10.56,10.96,11.37,12.18,13.0,13.81,14.63,15.03,15.44,15.85,16.26,16.66,17.07,17.48,17.88,18.29,18.70,19.11,19.51,19.92,20.33,20.73,21.04]
temp_fit = [3.025,3.043,3.063,3.092,3.107,3.127,3.139,3.139,3.13,3.116,3.092,3.063,3.025,2.976,2.903,2.815,2.713,2.596,2.451,2.305,2.159,2.013,1.882,1.736,1.64]
temp_upper = [3.232,3.218,3.18,3.195,3.203,3.215,3.221,3.221,3.215,3.203,3.18,3.151,3.107,3.049,2.976,2.903,2.801,2.713,2.582,2.451,2.334,2.232,2.144,2.048,1.975]
temp_lower = [2.798,2.868,2.947,3.005,3.034,3.043,3.054,3.054,3.043,3.028,3.005,2.961,2.932,2.888,2.815,2.728,2.626,2.465,2.305,2.144,1.969,1.78,1.59,1.415,1.313]

kd_curve_x = [.153,.163,.173,.184,.196,.209,.222,.237,.252,.268,.285,.303,.323,.344,.365,.389,.414,.441,.469,.499,.531,.565,.601,.639,.680,.724,.770,.812]
kd_fit = [2.757,2.815,2.874,2.932,2.990,3.049,3.092,3.113,3.13,3.13,3.116,3.078,3.028,2.967,2.903,2.83,2.751,2.669,2.588,2.509,2.421,2.334,2.246,2.159,2.071,1.984,1.896,1.838]
kd_upper = [2.955,2.961,2.976,3.005,3.063,3.122,3.165,3.189,3.203,3.209,3.203,3.186,3.16,3.136,3.092,3.049,2.984,2.888,2.815,2.757,2.669,2.605,2.559,2.524,2.494,2.471,2.451,2.442]
kd_lower = [2.588,2.693,2.772,2.844,2.909,2.976,3.02,3.04,3.049,3.049,3.034,2.976,2.903,2.801,2.713,2.611,2.509,2.407,2.319,2.217,2.115,2.013,1.896,1.78,1.648,1.503,1.357,1.225]

chl_curve_x = [.615,.711,.822,.949,1.097,1.264,1.461,1.689,1.947,2.25,2.60,3.00,3.46,4.0,4.62,5.33,6.15,7.09,8.0]
chl_fit = [2.914,2.932,2.967,2.996,3.025,3.049,3.06,3.063,3.06,3.049,3.014,2.982,2.955,2.932,2.909,2.888,2.868,2.844,2.839]
chl_upper = [3.087,3.049,3.054,3.063,3.078,3.101,3.122,3.13,3.136,3.136,3.13,3.127,3.13,3.16,3.203,3.232,3.297,3.37,3.413]
chl_lower = [2.725,2.815,2.888,2.932,2.961,2.984,2.99,2.99,2.984,2.955,2.903,2.83,2.757,2.669,2.582,2.494,2.421,2.319,2.246]

y_ticks = [10, 100, 1000, 10000]
x_ticks_a = [0.0, 2.5, 5.0]
x_ticks_b = [9, 12, 15, 18, 21]
x_ticks_c = [0.2, 0.4, 0.6, 0.8]
x_ticks_d = [2, 4, 6, 8]

FONT = "Liberation Sans"
INK = "#4d4d4d"

def pow10(v):
    return [10 ** a for a in v]

def helper_axis(ticks, label, size, style, standoff, **kw):
    ax = LinearAxis(ticker=FixedTicker(ticks=ticks), major_label_overrides={ticks[0]: label},
                    major_tick_line_color=None, minor_tick_line_color=None, axis_line_color=None,
                    major_tick_out=0, major_tick_in=0, major_label_standoff=standoff,
                    major_label_text_font=FONT, major_label_text_font_size=size,
                    major_label_text_font_style=style, major_label_text_color="black", **kw)
    return ax

def panel(points, cx, fit, up, lo, xr, yr, xticks, xlabels, xlabel, ylabel, ylab_standoff, letter, letter_pos, letter_standoff,
          width, height, left, right, top, bottom, xlog=False, subscript=None):
    p = figure(width=width, height=height, output_backend="svg", toolbar_location=None,
               x_axis_type="log" if xlog else "linear", y_axis_type="log",
               x_range=Range1d(*xr), y_range=Range1d(10 ** yr[0], 10 ** yr[1]),
               min_border_left=left, min_border_right=right, min_border_top=top, min_border_bottom=bottom)
    p.grid.visible = False
    p.background_fill_color = "white"
    p.border_fill_color = "white"
    p.outline_line_color = "#8a8a8a"
    p.outline_line_width = 2
    p.scatter([a for a, _ in points], pow10([b for _, b in points]), size=26, color="black", line_width=0)
    p.varea(cx, pow10(lo), pow10(up), fill_color="#999999", fill_alpha=0.4)
    p.line(cx, pow10(fit), line_color="black", line_width=5)
    for ax, ticks, labels in ((p.xaxis[0], xticks, xlabels), (p.yaxis[0], y_ticks, [str(t) for t in y_ticks])):
        ax.ticker = FixedTicker(ticks=ticks)
        ax.major_label_overrides = dict(zip(ticks, labels))
        ax.minor_tick_line_color = None
        ax.major_tick_in = 0
        ax.major_tick_line_color = "#333333"
        ax.major_tick_line_width = 2
        ax.major_label_text_font = FONT
        ax.major_label_text_font_size = "40px"
        ax.major_label_text_color = INK
        ax.axis_label_text_font = FONT
        ax.axis_label_text_font_size = "46px"
        ax.axis_label_text_font_style = "normal"
        ax.axis_label_text_color = "black"
    p.xaxis[0].major_tick_out = 12
    p.yaxis[0].major_tick_out = 9
    p.xaxis[0].major_label_standoff = 24
    p.yaxis[0].major_label_standoff = 10
    p.xaxis[0].axis_line_color = "black"
    p.xaxis[0].axis_line_width = 3
    p.yaxis[0].axis_line_color = "#333333"
    p.yaxis[0].axis_line_width = 2.5
    p.xaxis[0].axis_label = xlabel
    p.xaxis[0].axis_label_standoff = 4

    # panel letter, carried by a helper axis so it may sit outside the plot frame
    p.extra_y_ranges = {"frac": Range1d(0, 1)}
    p.extra_y_scales = {"frac": LinearScale()}
    lax = helper_axis([letter_pos], letter, "76px", "bold", letter_standoff, y_range_name="frac")
    if ylabel:
        lax.axis_label = ylabel
        lax.axis_label_text_font = FONT
        lax.axis_label_text_font_size = "49px"
        lax.axis_label_text_font_style = "normal"
        lax.axis_label_text_color = "black"
        lax.axis_label_standoff = ylab_standoff
    p.add_layout(lax, "left")

    if subscript:
        p.extra_x_ranges = {"frac": Range1d(0, 1)}
        p.extra_x_scales = {"frac": LinearScale()}
        p.add_layout(helper_axis([subscript[0]], subscript[1], "31px", "normal", subscript[2], x_range_name="frac"), "below")
    return p

Y_TOP1 = (0.0946, 4.6246)
Y_TOP2 = (0.0931, 4.6356)
YLAB = "Kelp\u00a0\u00a0cover m²"

a = panel(anomaly_points, anomaly_curve_x, anomaly_fit, anomaly_upper, anomaly_lower, (-2.428, 5.034), Y_TOP1,
          x_ticks_a, ["0.0", "2.5", "5.0"], "Temp Anomaly°C", YLAB, -57, "A", 0.9742, 6,
          2066, 1582, 196, 7, 1, 145)
b = panel(temp_points, temp_curve_x, temp_fit, temp_upper, temp_lower, (8.926, 21.671), Y_TOP1,
          x_ticks_b, ["9", "12", "15", "18", "21"], "Temp°C", None, 0, "B", 0.9742, -48,
          2025, 1582, 161, 1, 1, 145)
c = panel(kd_points, kd_curve_x, kd_fit, kd_upper, kd_lower, (0.1404, 0.982), Y_TOP2,
          x_ticks_c, ["0.2", "0.4", "0.6", "0.8"], "K\u00a0\u00a0(l)", YLAB, -55, "C", 0.9995, 3,
          2066, 1610, 196, 7, 47, 123, xlog=True, subscript=(0.495, "d", -38))
d = panel(chl_points, chl_curve_x, chl_fit, chl_upper, chl_lower, (0.543, 9.12), Y_TOP2,
          x_ticks_d, ["2", "4", "6", "8"], "Chlorophyll-a mg m⁻³", None, 0, "D", 0.9995, -51,
          2025, 1610, 161, 1, 47, 123, xlog=True)

layout = column(row(a, b), row(c, d))
open("out.html", "w").write(file_html(layout, INLINE))
